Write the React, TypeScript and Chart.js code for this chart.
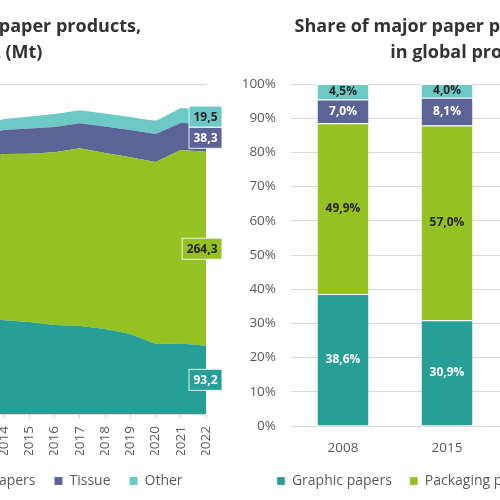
import React, { useEffect, useRef } from "react";
import { Chart, registerables } from "chart.js";

Chart.register(...registerables);

// ---------- Data ----------
const years = [
  "2005", "2006", "2007", "2008", "2009", "2010", "2011", "2012", "2013",
  "2014", "2015", "2016", "2017", "2018", "2019", "2020", "2021", "2022",
];
const graphicMt = [152, 155, 157, 150, 139, 141, 139, 134, 131, 128, 125.5, 121.5, 120, 116, 109, 95.5, 96, 93.2];
const packagingMt = [170, 177, 183, 181, 178, 192, 200, 206, 216, 226.5, 229.5, 235.5, 242.5, 240, 241, 248, 264, 264.3];
const tissueMt = [25, 26, 27, 27.5, 28, 29, 30, 31, 32, 32.8, 34.3, 34.4, 34, 36, 37.3, 38.2, 36.8, 38.3];
const otherMt = [14, 14.5, 15, 14.5, 13.5, 14, 14.5, 14.5, 15, 15, 16.4, 17.6, 17.7, 17.8, 17.7, 17.7, 20.5, 19.5];

const shareYears = ["2008", "2015", "2020", "2022"];
const graphicShare = [38.6, 30.9, 23.9, 22.4];
const packagingShare = [49.9, 57.0, 62.1, 63.6];
const tissueShare = [7.0, 8.1, 9.6, 9.2];
const otherShare = [4.5, 4.0, 4.4, 4.7];

const seriesNames = ["Graphic papers", "Packaging papers", "Tissue", "Other"];
const leftTitle = ["Production of major paper products,", "2005-2022 (Mt)"];
const rightTitle = ["Share of major paper products categories", "in global production"];
const mtTicks = { min: 0, max: 450, step: 50 };

// ---------- Styles ----------
const FONT = "'Open Sans', 'Noto Sans', sans-serif";
const COLORS = ["#279E96", "#95C123", "#5C6396", "#6DC9C5"];
const LABEL_COLORS = ["#ffffff", "#262626", "#ffffff", "#262626"];
const AXIS_TEXT = "#595959";
const GRID = "#d9d9d9";
const TITLE_COLOR = "#333333";
const TICK_FONT = { family: FONT, size: 13.5 };

const fmt = (v: number, d = 1) => v.toFixed(d).replace(".", ",");

// Labels at the last point of each stacked area; boxes kept inside a right limit
const lastPointLabels = {
  id: "lastPointLabels",
  afterDatasetsDraw(chart: any) {
    const ctx = chart.ctx;
    const yScale = chart.scales.y;
    ctx.save();
    ctx.font = `bold 12px ${FONT}`;
    ctx.textAlign = "center";
    ctx.textBaseline = "middle";
    let prevY = yScale.getPixelForValue(0);
    chart.data.datasets.forEach((ds: any, i: number) => {
      const meta = chart.getDatasetMeta(i);
      const n = ds.data.length - 1;
      const pt = meta.data[n];
      const topY = pt.y;
      const cy = (topY + prevY) / 2;
      prevY = topY;
      const text = fmt(ds.data[n]);
      const w = ctx.measureText(text).width + 9;
      const h = 21;
      const right = Math.min(pt.x + w / 2, pt.x + 16);
      const left = right - w;
      ctx.fillStyle = COLORS[i];
      ctx.fillRect(left, cy - h / 2, w, h);
      ctx.strokeStyle = "rgba(255,255,255,0.85)";
      ctx.lineWidth = 1;
      ctx.strokeRect(left, cy - h / 2, w, h);
      ctx.fillStyle = LABEL_COLORS[i];
      ctx.fillText(text, left + w / 2, cy + 0.5);
    });
    ctx.restore();
  },
};

const barLabels = {
  id: "barLabels",
  afterDatasetsDraw(chart: any) {
    const ctx = chart.ctx;
    ctx.save();
    ctx.font = `bold 12px ${FONT}`;
    ctx.textAlign = "center";
    ctx.textBaseline = "middle";
    chart.data.datasets.forEach((ds: any, i: number) => {
      const meta = chart.getDatasetMeta(i);
      meta.data.forEach((bar: any, j: number) => {
        const cy = (bar.y + bar.base) / 2;
        ctx.fillStyle = LABEL_COLORS[i];
        ctx.fillText(fmt(ds.data[j]) + "%", bar.x, cy);
      });
    });
    ctx.restore();
  },
};

const legendOpts = (pad: number) => ({
  position: "bottom" as const,
  labels: {
    boxWidth: 8,
    boxHeight: 8,
    padding: pad,
    color: AXIS_TEXT,
    font: { family: FONT, size: 14 },
  },
});

const titleOpts = (text: string[]) => ({
  display: true,
  text,
  color: TITLE_COLOR,
  font: { family: FONT, size: 18, weight: "bold" as const, lineHeight: 1.45 },
  padding: { top: 14, bottom: 17.8 },
});

function LeftChart() {
  const ref = useRef<HTMLCanvasElement>(null);
  useEffect(() => {
    const chart = new Chart(ref.current!, {
      type: "line",
      data: {
        labels: years,
        datasets: [graphicMt, packagingMt, tissueMt, otherMt].map((d, i) => ({
          label: seriesNames[i],
          data: d,
          backgroundColor: COLORS[i],
          borderColor: COLORS[i],
          borderWidth: 0,
          pointRadius: 0,
          fill: i === 0 ? "origin" : "-1",
          tension: 0,
        })),
      },
      options: {
        responsive: false,
        animation: false,
        layout: { padding: { left: 9, right: 24, top: 0, bottom: 2 } },
        plugins: {
          title: titleOpts(leftTitle),
          legend: legendOpts(19),
          tooltip: { enabled: false },
        },
        scales: {
          x: {
            offset: false,
            grid: { drawOnChartArea: false, color: GRID, tickLength: 5 },
            border: { color: GRID },
            ticks: {
              minRotation: 90,
              maxRotation: 90,
              autoSkip: false,
              padding: 7,
              color: AXIS_TEXT,
              font: TICK_FONT,
            },
            afterFit(scale: any) {
              scale.height = 41;
            },
          },
          y: {
            stacked: true,
            min: mtTicks.min,
            max: mtTicks.max,
            ticks: { stepSize: mtTicks.step, color: AXIS_TEXT, font: TICK_FONT },
            grid: { color: GRID, drawTicks: false },
            border: { display: false },
            afterFit(scale: any) {
              scale.width = 28;
            },
          },
        },
      },
      plugins: [lastPointLabels],
    });
    return () => chart.destroy();
  }, []);
  return (
    <canvas
      ref={ref}
      width={490}
      height={500}
      style={{ position: "absolute", left: -260, top: 0, width: 490, height: 500 }}
    />
  );
}

function RightChart() {
  const ref = useRef<HTMLCanvasElement>(null);
  useEffect(() => {
    const chart = new Chart(ref.current!, {
      type: "bar",
      data: {
        labels: shareYears,
        datasets: [graphicShare, packagingShare, tissueShare, otherShare].map((d, i) => ({
          label: seriesNames[i],
          data: d,
          backgroundColor: COLORS[i],
          borderColor: "#ffffff",
          borderWidth: { top: 1, left: 0, right: 0, bottom: 0 },
          borderSkipped: false,
          barPercentage: 1,
          categoryPercentage: 0.49,
        })),
      },
      options: {
        responsive: false,
        animation: false,
        layout: { padding: { left: 5, right: 0, top: 0, bottom: 2 } },
        plugins: {
          title: titleOpts(rightTitle),
          legend: legendOpts(18),
          tooltip: { enabled: false },
        },
        scales: {
          x: {
            stacked: true,
            grid: { display: false, drawTicks: false },
            border: { display: false },
            ticks: { padding: 14, color: AXIS_TEXT, font: TICK_FONT },
            afterFit(scale: any) {
              scale.height = 30;
            },
          },
          y: {
            stacked: true,
            min: 0,
            max: 100,
            ticks: {
              stepSize: 10,
              padding: 15,
              color: AXIS_TEXT,
              font: TICK_FONT,
              callback: (v: any) => v + "%",
            },
            grid: { color: GRID, drawTicks: false },
            border: { display: false },
            afterFit(scale: any) {
              scale.width = 50;
            },
          },
          yRight: {
            position: "right",
            display: true,
            ticks: { display: false },
            grid: { display: false },
            border: { display: false },
            afterFit(scale: any) {
              scale.width = 13;
            },
          },
        },
      },
      plugins: [barLabels],
    });
    return () => chart.destroy();
  }, []);
  return (
    <canvas
      ref={ref}
      width={484}
      height={500}
      style={{ position: "absolute", left: 236, top: 0, width: 484, height: 500 }}
    />
  );
}

export default function App() {
  return (
    <div
      style={{
        position: "fixed",
        left: 0,
        top: 0,
        width: 500,
        height: 500,
        overflow: "hidden",
        background: "#ffffff",
      }}
    >
      <LeftChart />
      <RightChart />
    </div>
  );
}
